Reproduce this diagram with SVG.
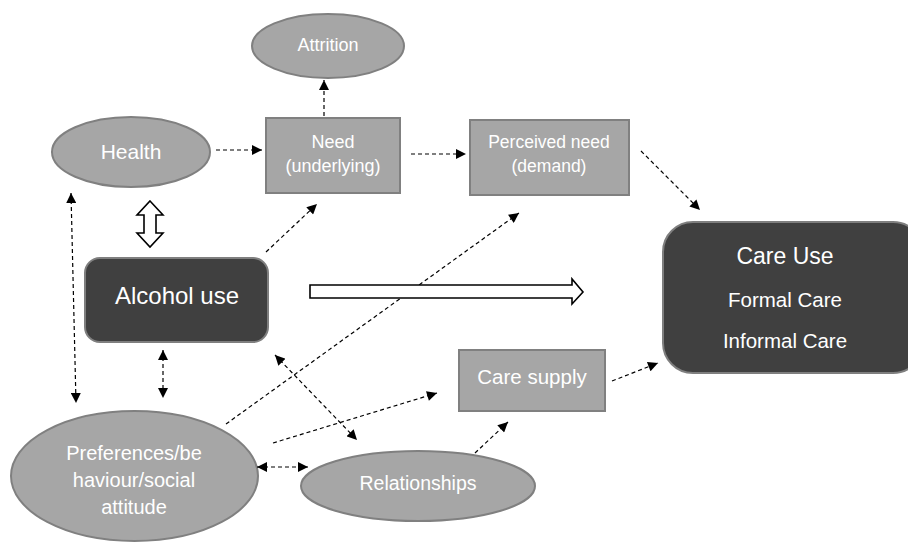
<svg xmlns="http://www.w3.org/2000/svg" width="908" height="542" viewBox="0 0 908 542">
<defs>
<marker id="ah" viewBox="0 0 10 10" refX="10" refY="5" markerWidth="11" markerHeight="10" markerUnits="userSpaceOnUse" orient="auto-start-reverse">
<path d="M0,0 L10,5 L0,10 z" fill="#000"/>
</marker>
<style>
.n{fill:#a6a6a6;stroke:#808080;stroke-width:2}
.d{fill:#404040;stroke:#7f7f7f;stroke-width:2}
text{font-family:"Liberation Sans",Arial,sans-serif;fill:#fff;text-anchor:middle;dominant-baseline:central}
.c line{stroke:#000;stroke-width:1.2;stroke-dasharray:4 3;fill:none}
.h{fill:#fff;stroke:#000;stroke-width:1.6}
</style>
</defs>
<rect width="908" height="542" fill="#fff"/>
<g id="attrition"><ellipse class="n" cx="328" cy="46" rx="76" ry="32"/><text x="328" y="45" font-size="18">Attrition</text></g>
<g id="health"><ellipse class="n" cx="131" cy="152" rx="79" ry="35"/><text x="131" y="151" font-size="21">Health</text></g>
<g id="need"><rect class="n" x="266" y="118" width="134" height="75"/><text x="333" y="142" font-size="18">Need</text><text x="333" y="166" font-size="18">(underlying)</text></g>
<g id="perceived"><rect class="n" x="470" y="120" width="159" height="75"/><text x="549" y="142" font-size="17.5">Perceived need</text><text x="549" y="166" font-size="17.5">(demand)</text></g>
<g id="careuse"><rect class="d" x="663" y="222" width="260" height="151" rx="30"/><text x="785" y="256" font-size="23">Care Use</text><text x="785" y="299" font-size="20.5">Formal Care</text><text x="785" y="340" font-size="20.5">Informal Care</text></g>
<g id="alcohol"><rect class="d" x="85" y="258" width="183" height="84" rx="15"/><text x="177" y="295" font-size="24">Alcohol use</text></g>
<g id="caresupply"><rect class="n" x="459" y="350" width="146" height="61"/><text x="532" y="376" font-size="20.5">Care supply</text></g>
<g id="relationships"><ellipse class="n" cx="418" cy="486" rx="117" ry="35"/><text x="418" y="483" font-size="19.5">Relationships</text></g>
<g id="preferences"><ellipse class="n" cx="134.5" cy="476" rx="123.5" ry="65"/><text x="134" y="453" font-size="20">Preferences/be</text><text x="134" y="480" font-size="20">haviour/social</text><text x="134" y="507" font-size="20">attitude</text></g>
<g id="connectors" class="c">
<line x1="216" y1="150" x2="262" y2="150" marker-end="url(#ah)"/>
<line x1="324" y1="116" x2="324" y2="80" marker-end="url(#ah)"/>
<line x1="411" y1="154" x2="466" y2="154" marker-end="url(#ah)"/>
<line x1="641" y1="151" x2="700" y2="210" marker-end="url(#ah)"/>
<line x1="612" y1="381" x2="658" y2="363" marker-end="url(#ah)"/>
<line x1="475" y1="453" x2="508" y2="422" marker-end="url(#ah)"/>
<line x1="257" y1="467" x2="308" y2="467" marker-start="url(#ah)" marker-end="url(#ah)"/>
<line x1="275" y1="355" x2="357" y2="440" marker-start="url(#ah)" marker-end="url(#ah)"/>
<line x1="273" y1="443" x2="437" y2="393" marker-end="url(#ah)"/>
<line x1="226" y1="424" x2="519" y2="213" marker-end="url(#ah)"/>
<line x1="266" y1="252" x2="317" y2="204" marker-end="url(#ah)"/>
<line x1="71" y1="193" x2="76" y2="403" marker-start="url(#ah)" marker-end="url(#ah)"/>
<line x1="163" y1="350" x2="163" y2="398" marker-start="url(#ah)" marker-end="url(#ah)"/>
<polygon class="h" points="150,201 163,215 156,215 156,233 163,233 150,247 137,233 144,233 144,215 137,215"/>
<polygon class="h" points="310,285 572,285 572,279 583,292 572,304 572,298 310,298"/>
</g>
</svg>
